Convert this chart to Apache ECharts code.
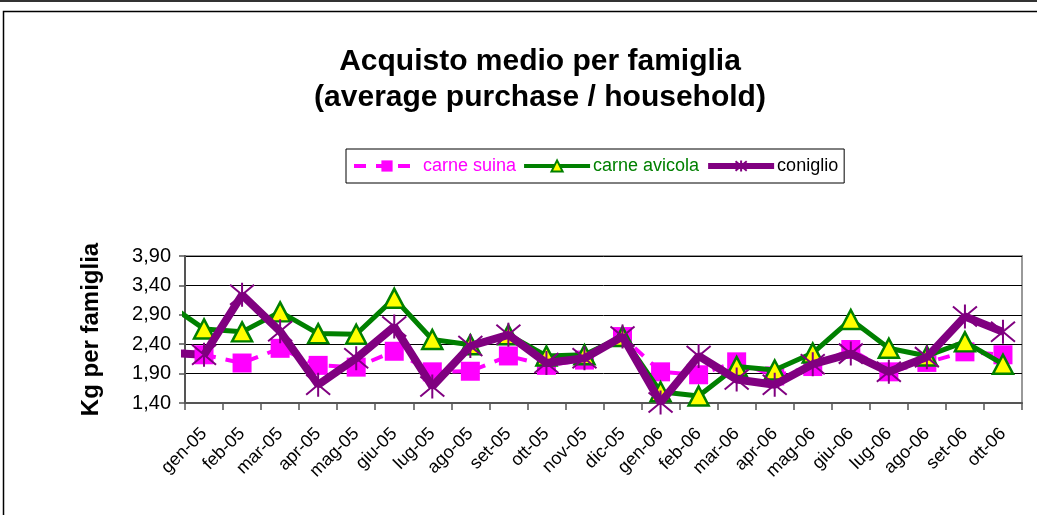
<!DOCTYPE html>
<html>
<head>
<meta charset="utf-8">
<script src="https://cdn.jsdelivr.net/npm/echarts@6/dist/echarts.min.js"></script>
<style>
  html, body { margin: 0; padding: 0; background: #fff; }
  #main { width: 1037px; height: 515px; }
</style>
</head>
<body>
<div id="main"></div>
<script>
// mesi (categorie asse x)
var mesi = ['gen-05','feb-05','mar-05','apr-05','mag-05','giu-05','lug-05','ago-05','set-05','ott-05','nov-05','dic-05',
            'gen-06','feb-06','mar-06','apr-06','mag-06','giu-06','lug-06','ago-06','set-06','ott-06'];
// kg per famiglia
var carneSuina   = [2.22, 2.08, 2.33, 2.04, 2.01, 2.28, 1.93, 1.94, 2.20, 2.04, 2.13, 2.53,
                    1.93, 1.88, 2.10, 1.86, 2.02, 2.31, 1.93, 2.09, 2.27, 2.22];
var carneAvicola = [2.66, 2.61, 2.95, 2.58, 2.57, 3.18, 2.48, 2.39, 2.56, 2.20, 2.22, 2.53,
                    1.59, 1.52, 2.02, 1.96, 2.25, 2.82, 2.33, 2.20, 2.44, 2.06];
var coniglio     = [2.22, 3.24, 2.62, 1.71, 2.16, 2.70, 1.68, 2.37, 2.56, 2.08, 2.16, 2.53,
                    1.41, 2.20, 1.80, 1.71, 2.06, 2.24, 1.93, 2.18, 2.87, 2.61];
// tratto iniziale (mese precedente, tagliato dal grafico originale)
var prevPos = -0.8;
var prevSuina = 2.30, prevAvicola = 3.02, prevConiglio = 2.25;
// etichette asse y
var yMin = 1.4, yMax = 3.9, yStep = 0.5;

var FONT = 'Liberation Sans, Arial, sans-serif';
var asterisco = 'path://M0,0L20,20M20,0L0,20M10,-2L10,22';

var myChart = echarts.init(document.getElementById('main'));

function stub(name, v0, v1, lineStyle) {
    return {
        name: name,
        type: 'line',
        xAxisIndex: 1,
        data: [[prevPos, v0], [0, v1]],
        showSymbol: false,
        symbol: 'none',
        clip: false,
        silent: true,
        lineStyle: lineStyle,
        z: 1
    };
}

var lsSuina = { color: '#FF00FF', width: 4, type: [12, 10] };
var lsAvicola = { color: '#008000', width: 5 };
var lsConiglio = { color: '#800080', width: 8 };

var option = {
    backgroundColor: '#fff',
    animation: false,
    graphic: [
        { type: 'rect', shape: { x: 0, y: 0, width: 1037, height: 2 }, style: { fill: '#333' } },
        { type: 'rect', shape: { x: 3.5, y: 11.5, width: 1040, height: 520 }, style: { fill: 'none', stroke: '#000', lineWidth: 1.5 } }
    ],
    title: {
        text: 'Acquisto medio per famiglia\n(average purchase / household)',
        left: 535,
        textAlign: 'center',
        top: 39,
        textStyle: { fontFamily: FONT, fontSize: 30, fontWeight: 'bold', color: '#000', lineHeight: 36 }
    },
    legend: {
        left: 346,
        top: 149,
        width: 497,
        height: 34,
        padding: [8, 6],
        borderColor: '#000',
        borderWidth: 1,
        itemWidth: 66,
        itemHeight: 14,
        itemGap: 6,
        data: [
            { name: 'carne suina', textStyle: { color: '#FF00FF' }, lineStyle: { width: 4 } },
            { name: 'carne avicola', textStyle: { color: '#008000' }, lineStyle: { width: 4 } },
            { name: 'coniglio', textStyle: { color: '#000' }, lineStyle: { width: 6 } }
        ],
        textStyle: { fontFamily: FONT, fontSize: 18, padding: [0, 0, 0, -2] }
    },
    grid: {
        left: 185, right: 15, top: 256, bottom: 112,
        show: true, borderColor: '#999', borderWidth: 2
    },
    xAxis: [{
        type: 'category',
        data: mesi,
        boundaryGap: true,
        axisLine: { lineStyle: { color: '#555', width: 2 } },
        axisTick: { show: true, length: 7, lineStyle: { color: '#555', width: 1.5 } },
        axisLabel: { rotate: 45, color: '#000', fontFamily: FONT, fontSize: 18, margin: 28, interval: 0 }
    }, {
        type: 'value',
        min: -0.5,
        max: mesi.length - 0.5,
        show: false
    }],
    yAxis: {
        type: 'value',
        min: yMin,
        max: yMax,
        interval: yStep,
        name: 'Kg per famiglia',
        nameLocation: 'middle',
        nameGap: 82,
        nameTextStyle: { fontFamily: FONT, fontSize: 24, fontWeight: 'bold', color: '#000' },
        axisLine: { show: true, onZero: false, lineStyle: { color: '#555', width: 2 } },
        axisTick: { show: true, length: 6, lineStyle: { color: '#555', width: 1.5 } },
        axisLabel: {
            color: '#000', fontFamily: FONT, fontSize: 20, margin: 14,
            formatter: function (v) { return v.toFixed(2).replace('.', ','); }
        },
        splitLine: { lineStyle: { color: '#000', width: 1 } }
    },
    series: [
        stub('suina-prev', prevSuina, carneSuina[0], lsSuina),
        stub('avicola-prev', prevAvicola, carneAvicola[0], lsAvicola),
        stub('coniglio-prev', prevConiglio, coniglio[0], lsConiglio),
        {
            name: 'carne suina',
            type: 'line',
            data: carneSuina,
            symbol: 'rect',
            symbolSize: 19,
            lineStyle: lsSuina,
            itemStyle: { color: '#FF00FF' },
            z: 2
        },
        {
            name: 'carne avicola',
            type: 'line',
            data: carneAvicola,
            symbol: 'triangle',
            symbolSize: [20, 19],
            lineStyle: lsAvicola,
            itemStyle: { color: '#FFFF00', borderColor: '#008000', borderWidth: 2.5 },
            z: 3
        },
        {
            name: 'coniglio',
            type: 'line',
            data: coniglio,
            symbol: asterisco,
            symbolSize: 24,
            lineStyle: lsConiglio,
            itemStyle: { color: 'none', borderColor: '#800080', borderWidth: 2 },
            z: 4
        }
    ]
};

myChart.setOption(option);
</script>
</body>
</html>
